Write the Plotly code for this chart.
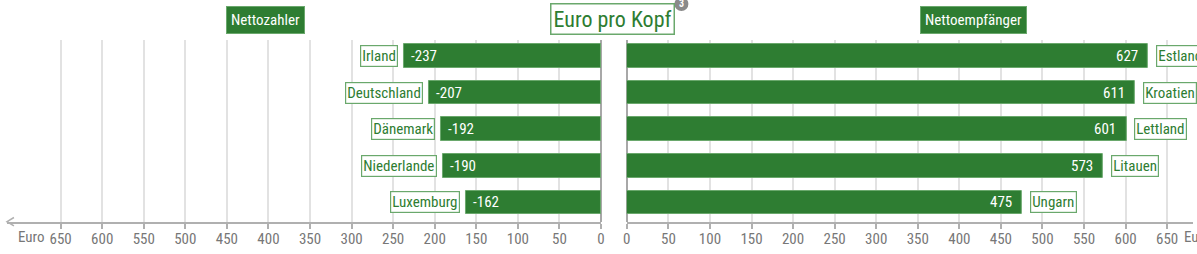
import plotly.graph_objects as go
import numpy as np

# ---- data ----
payer_countries = ["Irland", "Deutschland", "Dänemark", "Niederlande", "Luxemburg"]
payer_values = [-237, -207, -192, -190, -162]
recv_countries = ["Estland", "Kroatien", "Lettland", "Litauen", "Ungarn"]
recv_values = [627, 611, 601, 573, 475]
tick_values = list(range(0, 651, 50))
tick_labels = [str(v) for v in tick_values]

W, H = 1197, 254
FONT = "Roboto Condensed, Liberation Sans Narrow, DejaVu Sans Condensed, Roboto, sans-serif"
GREEN = "#2e7d32"
LGREEN = "#6aa86c"
GREY = "#777777"

def px(x):
    return x / W

def py(y):
    return 1 - y / H

scale = 544 / 650.0
left_range = (601 - 3) / scale
right_range = (W - 627) / scale
rows = list(range(len(payer_countries)))

fig = go.Figure()
fig.add_trace(go.Bar(
    x=[-v for v in payer_values], y=rows, orientation="h",
    xaxis="x", yaxis="y", width=0.64,
    marker=dict(color=GREEN, line=dict(color=LGREEN, width=1)),
    hoverinfo="skip", showlegend=False))
fig.add_trace(go.Bar(
    x=recv_values, y=rows, orientation="h",
    xaxis="x2", yaxis="y", width=0.64,
    marker=dict(color=GREEN, line=dict(color=LGREEN, width=1)),
    hoverinfo="skip", showlegend=False))

axis_common = dict(
    tickvals=tick_values, ticktext=tick_labels,
    showgrid=True, gridcolor="#e2e2e2", gridwidth=1.5,
    zeroline=True, zerolinecolor="#a8a8a8", zerolinewidth=2,
    showline=True, linecolor="#b0b0b0", linewidth=1.5,
    ticks="outside", ticklen=5, tickcolor="#b0b0b0", tickwidth=1.5,
    ticklabelstandoff=-3,
    tickfont=dict(family=FONT, size=15, color=GREY),
    anchor="y", fixedrange=True,
)
fig.update_layout(
    width=W, height=H,
    margin=dict(l=0, r=0, t=0, b=0),
    paper_bgcolor="white", plot_bgcolor="white",
    bargap=0,
    xaxis=dict(domain=[px(3), px(601)], range=[left_range, 0], **axis_common),
    xaxis2=dict(domain=[px(627), 1], range=[0, right_range], **axis_common),
    yaxis=dict(domain=[py(222), py(40)], range=[4.536, -0.437],
               visible=False, fixedrange=True),
    font=dict(family=FONT),
)

ann = []
for i in rows:
    v = payer_values[i]
    ann.append(dict(x=-v, y=i, xref="x", yref="y", text=payer_countries[i],
                    xanchor="right", yanchor="middle", xshift=-6, showarrow=False,
                    font=dict(family=FONT, size=15, color=GREEN),
                    bgcolor="white", bordercolor=LGREEN, borderwidth=1.2, borderpad=1))
    ann.append(dict(x=-v, y=i, xref="x", yref="y", text=str(v),
                    xanchor="left", yanchor="middle", xshift=5, showarrow=False,
                    font=dict(family=FONT, size=15, color="white")))
    r = recv_values[i]
    ann.append(dict(x=r, y=i, xref="x2", yref="y", text=recv_countries[i],
                    xanchor="left", yanchor="middle", xshift=8, showarrow=False,
                    font=dict(family=FONT, size=15, color=GREEN),
                    bgcolor="white", bordercolor=LGREEN, borderwidth=1.2, borderpad=1))
    ann.append(dict(x=r, y=i, xref="x2", yref="y", text=str(r),
                    xanchor="right", yanchor="middle", xshift=-8, showarrow=False,
                    font=dict(family=FONT, size=15, color="white")))

# headers
ann.append(dict(x=px(263), y=py(20), xref="paper", yref="paper", text="Nettozahler",
                showarrow=False, xanchor="center", yanchor="middle",
                font=dict(family=FONT, size=15, color="white"),
                bgcolor=GREEN, bordercolor=LGREEN, borderwidth=1, borderpad=4))
ann.append(dict(x=px(976), y=py(20), xref="paper", yref="paper", text="Nettoempfänger",
                showarrow=False, xanchor="center", yanchor="middle",
                font=dict(family=FONT, size=15, color="white"),
                bgcolor=GREEN, bordercolor=LGREEN, borderwidth=1, borderpad=4))
ann.append(dict(x=px(613), y=py(19.5), xref="paper", yref="paper", text="Euro pro Kopf",
                showarrow=False, xanchor="center", yanchor="middle",
                font=dict(family=FONT, size=22, color=GREEN),
                bgcolor="white", bordercolor=LGREEN, borderwidth=1.5, borderpad=2))
ann.append(dict(x=px(682), y=py(4), xref="paper", yref="paper", text="<b>3</b>",
                showarrow=False, xanchor="center", yanchor="middle",
                font=dict(family=FONT, size=10, color="white")))
# axis unit labels
ann.append(dict(x=px(28), y=py(237), xref="paper", yref="paper", text="Euro",
                showarrow=False, xanchor="center", yanchor="middle",
                font=dict(family=FONT, size=15, color=GREY)))
ann.append(dict(x=px(1186), y=py(237), xref="paper", yref="paper", text="Euro",
                showarrow=False, xanchor="left", yanchor="middle",
                font=dict(family=FONT, size=15, color=GREY)))

shapes = [
    dict(type="circle", xref="paper", yref="paper",
         x0=px(675), x1=px(689), y0=py(11), y1=py(-3),
         fillcolor="#8a8a8a", line=dict(width=0), layer="below"),
    dict(type="path", xref="paper", yref="paper",
         path=f"M {px(10)} {py(217.5)} L {px(3)} {py(221.7)} L {px(10)} {py(225.9)}",
         line=dict(color="#b0b0b0", width=1.5)),
]
fig.update_layout(annotations=ann, shapes=shapes)

fig.write_html("out.html")
